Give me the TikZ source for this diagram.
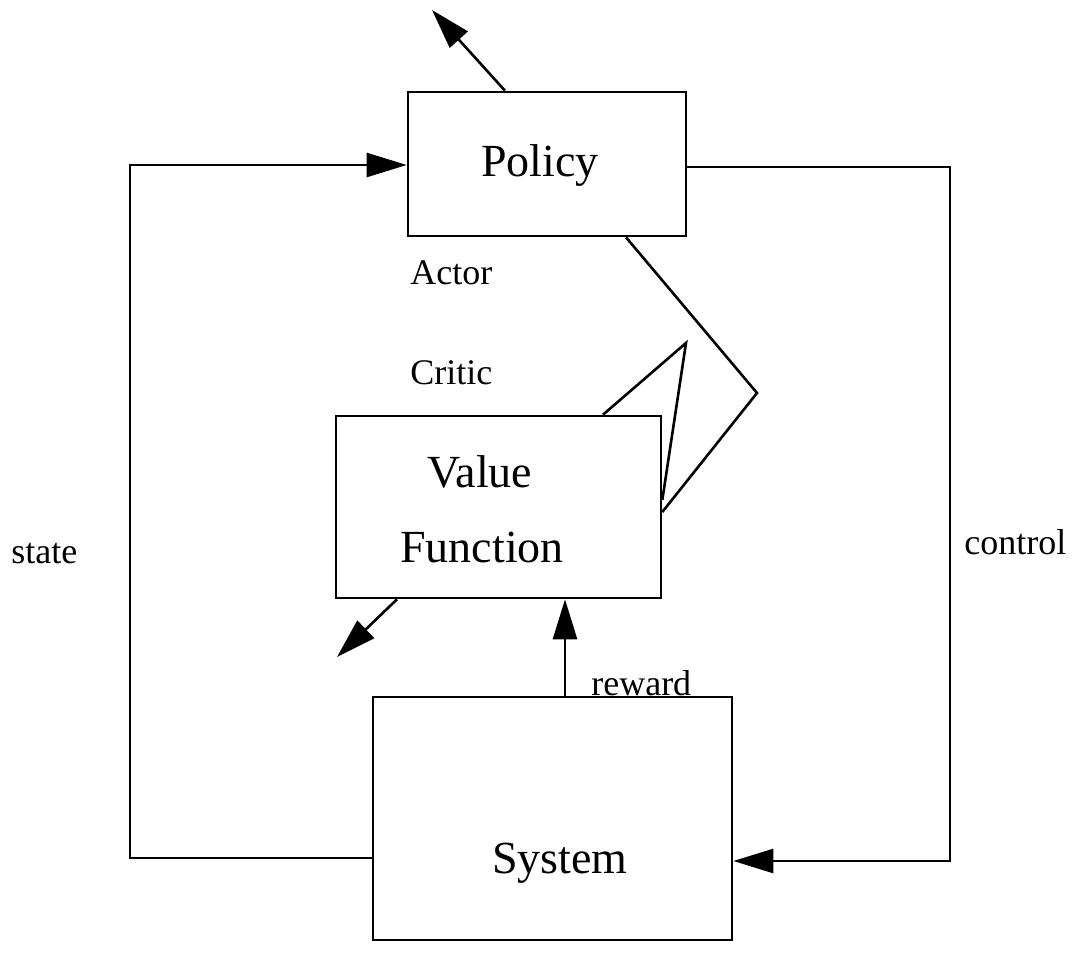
\documentclass[tikz,border=0pt]{standalone}
\usepackage{fontspec}
\setmainfont{Liberation Serif}
\usetikzlibrary{arrows.meta}
\begin{document}
\begin{tikzpicture}[x=1pt,y=-1pt,line width=2.6pt,
  box/.style={draw,line width=2.6pt,inner sep=0pt,minimum width=#1},
  arr/.style={-{Triangle[length=40pt,width=24pt]}},
  big/.style={font=\fontsize{46}{55}\selectfont,inner sep=0pt},
  small/.style={font=\fontsize{36}{43}\selectfont,inner sep=0pt}]
\useasboundingbox (0,0) rectangle (1080,968);
% boxes
\node[box=278pt,minimum height=144pt] (pol) at (547,164) {};
\node[box=325pt,minimum height=182pt] (vf) at (498.5,507) {};
\node[box=359pt,minimum height=243pt] (sys) at (552.5,818.5) {};
% texts
\node[big,anchor=base] (tpol) at (540,177) {Policy};
\node[big,anchor=base] (tval) at (480,487) {Value};
\node[big,anchor=base] (tfun) at (482,562) {Function};
\node[big,anchor=base] (tsys) at (560,873) {System};
\node[small,anchor=base west] (tact) at (409,285) {Actor};
\node[small,anchor=base west] (tcri) at (409,385) {Critic};
\node[small,anchor=base west] (tsta) at (10,563) {state};
\node[small,anchor=base west] (tcon) at (963,554) {control};
\node[small,anchor=base west] (trew) at (590,695) {reward};
% free ends
\coordinate (t1) at (432,10);
\coordinate (b1) at (337,657);
% connectors
\draw[arr] (sys.west |- 0,858) -| (130,165) -- (pol.west |- 0,165);
\draw[arr] (pol.east |- 0,167) -| (950,861) -- (sys.east |- 0,861);
\draw[arr] (sys.north -| 565,0) -- (vf.south -| 565,0);
\draw[arr] (pol.north -| 505,0) -- (t1);
\draw[arr] (vf.south -| 397,0) -- (b1);
\draw (pol.south -| 626,0) -- (757,393) -- (vf.east |- 0,512);
\draw (vf.north -| 603,0) -- (686,343) -- (vf.east |- 0,500);
\end{tikzpicture}
\end{document}
